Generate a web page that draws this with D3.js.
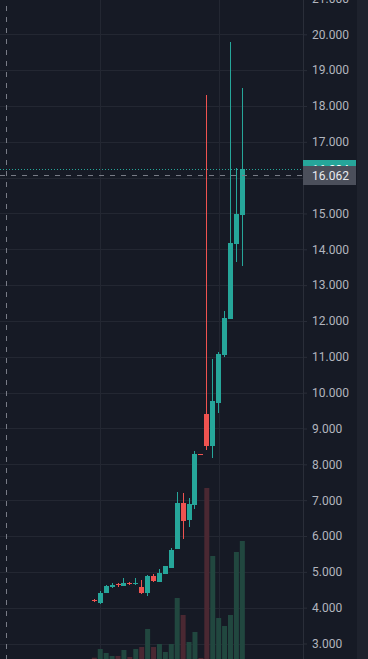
<!DOCTYPE html>
<html>
<head>
<meta charset="utf-8">
<script src="https://cdn.jsdelivr.net/npm/d3@7"></script>
<style>
  html, body { margin: 0; padding: 0; background: #161a25; overflow: hidden; }
  svg { display: block; }
</style>
</head>
<body>
<svg id="chart" width="368" height="659"></svg>
<script>
// ---- data ----
const categories = d3.range(1, 27).map(String); // 26 consecutive bars
const open  = [4225, 4136, 4414, 4582, 4660, 4610, 4690, 4660, 4582, 4414, 4889, 4721, 4945, 5112, 5642, 6925, 6451, 6869, 8290, 9408, 8524, 9723, 11054, 12066, 14159, 14968];
const high  = [4250, 4470, 4646, 4694, 4702, 4833, 4722, 4833, 4777, 4917, 4945, 5084, 5175, 5670, 7232, 7204, 7065, 8376, 8290, 18307, 10934, 11137, 12281, 19785, 16262, 18502];
const low   = [4165, 4108, 4400, 4554, 4582, 4600, 4630, 4620, 4386, 4331, 4721, 4715, 4940, 5105, 5630, 5921, 6256, 6757, 8280, 8412, 8189, 9427, 10998, 12050, 13656, 13545];
const close = [4195, 4414, 4618, 4646, 4620, 4694, 4660, 4690, 4414, 4889, 4741, 4972, 5168, 5614, 6925, 6423, 6897, 8292, 8280, 8524, 9771, 11082, 12086, 14186, 14987, 16234];
const volume = [1.3, 10, 6, 3, 3, 9, 2, 10, 12, 30, 12, 15, 7, 15, 61, 44, 17, 27, 1, 171, 103, 41, 33, 44, 107, 118];
const priceTicks = d3.range(3000, 21001, 1000);
const timeGridAt = ["2", "22"];
const crosshairPrice = 16062;

// ---- layout ----
const W = 368, H = 659;
const plotRight = 303, stripLeft = 357;
const upColor = "#26a69a", downColor = "#ef5350";
const upVol = "#21473f", downVol = "#4a2832";

const svg = d3.select("#chart");
const fmt = d3.formatLocale({decimal: ",", thousands: ".", grouping: [3], currency: ["", ""]}).format(",");

const x = d3.scalePoint().domain(categories).range([94.33, 242.33]);
const y = d3.scaleLinear().domain([3000, 20000]).range([643.5, 34.3]);
const yVol = d3.scaleLinear().domain([0, 200]).range([H, H - 200]);

const bodyW = 5;
const bars = categories.map((c, i) => ({c, o: open[i], h: high[i], l: low[i], cl: close[i], v: volume[i], up: close[i] >= open[i]}));

svg.append("rect").attr("width", W).attr("height", H).attr("fill", "#161a25");
svg.append("rect").attr("x", stripLeft).attr("width", W - stripLeft).attr("height", H).attr("fill", "#1e222d");

// grid
svg.append("g").selectAll("line").data(priceTicks).join("line")
  .attr("x1", 0).attr("x2", plotRight)
  .attr("y1", d => Math.round(y(d)) + 0.5).attr("y2", d => Math.round(y(d)) + 0.5)
  .attr("stroke", "#232732").attr("stroke-width", 1);
svg.append("g").selectAll("line").data(timeGridAt).join("line")
  .attr("x1", d => Math.round(x(d)) + 0.5).attr("x2", d => Math.round(x(d)) + 0.5)
  .attr("y1", 0).attr("y2", H)
  .attr("stroke", "#232732").attr("stroke-width", 1);

// volume
svg.append("g").selectAll("rect").data(bars).join("rect")
  .attr("x", d => x(d.c) - bodyW / 2)
  .attr("width", bodyW)
  .attr("y", d => yVol(d.v))
  .attr("height", d => H - yVol(d.v))
  .attr("fill", d => d.up ? upVol : downVol);

// candles
const cg = svg.append("g").attr("shape-rendering", "crispEdges");
cg.selectAll("line").data(bars).join("line")
  .attr("x1", d => x(d.c)).attr("x2", d => x(d.c))
  .attr("y1", d => y(d.h)).attr("y2", d => y(d.l))
  .attr("stroke", d => d.up ? upColor : downColor).attr("stroke-width", 1);
cg.selectAll("rect").data(bars).join("rect")
  .attr("x", d => x(d.c) - bodyW / 2)
  .attr("width", bodyW)
  .attr("y", d => y(Math.max(d.o, d.cl)))
  .attr("height", d => Math.max(1, Math.abs(y(d.o) - y(d.cl))))
  .attr("fill", d => d.up ? upColor : downColor);

// axis
const axis = d3.axisRight(y).tickValues(priceTicks).tickFormat(fmt).tickSize(4).tickPadding(5);
const ag = svg.append("g").attr("transform", `translate(${plotRight},0)`).call(axis);
ag.select(".domain").remove();
ag.selectAll(".tick line").attr("stroke", "#2a2e39");
ag.selectAll(".tick text").attr("fill", "#b2b5be").attr("font-size", 12)
  .attr("font-family", "Roboto, 'Noto Sans', sans-serif");
svg.append("line").attr("x1", plotRight + 0.5).attr("x2", plotRight + 0.5).attr("y1", 0).attr("y2", H)
  .attr("stroke", "#2a2e39");

// last price line
const last = bars[bars.length - 1];
const yLast = Math.round(y(last.cl)) + 0.5;
svg.append("line").attr("x1", 0).attr("x2", plotRight).attr("y1", yLast).attr("y2", yLast)
  .attr("stroke", upColor).attr("stroke-width", 1).attr("stroke-dasharray", "1,2");

// crosshair
const yCross = Math.round(y(crosshairPrice)) + 0.5;
svg.append("line").attr("x1", 0).attr("x2", plotRight).attr("y1", yCross).attr("y2", yCross)
  .attr("stroke", "#787b86").attr("stroke-dasharray", "5,6");
svg.append("line").attr("x1", 6.5).attr("x2", 6.5).attr("y1", 0).attr("y2", H)
  .attr("stroke", "#787b86").attr("stroke-dasharray", "5,6").attr("stroke-dashoffset", -6);

// last price label
svg.append("rect").attr("x", plotRight).attr("width", 53).attr("y", yLast - 9.5).attr("height", 18)
  .attr("fill", upColor);
svg.append("text").attr("x", 312).attr("y", yLast).attr("dy", "0.35em")
  .attr("fill", "#ffffff").attr("font-size", 12).attr("font-family", "Roboto, sans-serif")
  .text(fmt(last.cl));
// crosshair label
svg.append("rect").attr("x", plotRight).attr("width", 53).attr("y", yCross - 9.5).attr("height", 19)
  .attr("fill", "#4b4f5b");
svg.append("text").attr("x", 312).attr("y", yCross).attr("dy", "0.35em")
  .attr("fill", "#e8eaef").attr("font-size", 12).attr("font-family", "Roboto, sans-serif")
  .text(fmt(crosshairPrice));
</script>
</body>
</html>
